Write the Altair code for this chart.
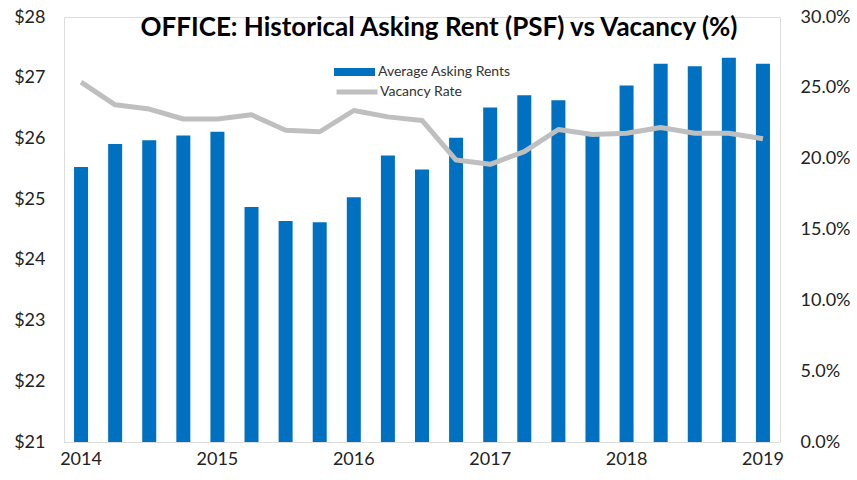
import altair as alt
import pandas as pd

quarters = ["2014 Q1", "2014 Q2", "2014 Q3", "2014 Q4",
            "2015 Q1", "2015 Q2", "2015 Q3", "2015 Q4",
            "2016 Q1", "2016 Q2", "2016 Q3", "2016 Q4",
            "2017 Q1", "2017 Q2", "2017 Q3", "2017 Q4",
            "2018 Q1", "2018 Q2", "2018 Q3", "2018 Q4",
            "2019 Q1"]
rents = [25.53, 25.91, 25.97, 26.05, 26.11, 24.87, 24.64, 24.62, 25.03, 25.72, 25.49,
         26.01, 26.51, 26.71, 26.63, 26.06, 26.87, 27.23, 27.19, 27.33, 27.23]
vacancy = [25.4, 23.8, 23.5, 22.8, 22.8, 23.1, 22.0, 21.9, 23.4, 22.95, 22.7,
           19.9, 19.6, 20.5, 22.06, 21.7, 21.8, 22.2, 21.8, 21.8, 21.4]

df = pd.DataFrame({"quarter": quarters, "rent": rents,
                   "vacancy": [v / 100 for v in vacancy]})

FONT = "Lato"
BLUE = "#0070C0"
GRAY = "#BFBFBF"

x_enc = alt.X("quarter:N", sort=quarters,
              scale=alt.Scale(type="band", paddingInner=0, paddingOuter=0),
              axis=alt.Axis(title=None, ticks=False, domain=False, labelAngle=0,
                            labelExpr="indexof(datum.value, 'Q1') >= 0 ? slice(datum.value, 0, 4) : ''",
                            labelFont=FONT, labelFontSize=18, labelColor="#222222",
                            labelPadding=8))

bars = alt.Chart(df).mark_bar(size=14).encode(
    x=x_enc,
    y=alt.Y("rent:Q", scale=alt.Scale(domain=[21, 28], zero=False, nice=False),
            axis=alt.Axis(title=None, orient="left", values=[21, 22, 23, 24, 25, 26, 27, 28],
                          format="$.0f", ticks=False, domain=False, grid=False,
                          labelFont=FONT, labelFontSize=18, labelColor="#222222",
                          labelPadding=19)),
    y2=alt.datum(21),
    fill=alt.Fill("s:N", scale=alt.Scale(domain=["Average Asking Rents"], range=[BLUE]),
                  legend=alt.Legend(title=None, orient="none", legendX=270, legendY=34.5,
                                    symbolType="M-1,-0.2H1V0.2H-1Z", symbolSize=1681,
                                    symbolStrokeWidth=0, labelFont=FONT, labelFontSize=14,
                                    labelColor="#333333", labelOffset=3)),
).transform_calculate(s="'Average Asking Rents'")

line = alt.Chart(df).mark_line(strokeWidth=5, strokeJoin="round").encode(
    x=x_enc,
    y=alt.Y("vacancy:Q", scale=alt.Scale(domain=[0, 0.30], nice=False),
            axis=alt.Axis(title=None, orient="right", values=[0, 0.05, 0.10, 0.15, 0.20, 0.25, 0.30],
                          format=".1%", ticks=False, domain=False, grid=False,
                          labelFont=FONT, labelFontSize=18, labelColor="#222222",
                          labelPadding=20)),
    stroke=alt.Stroke("s:N", scale=alt.Scale(domain=["Vacancy Rate"], range=[GRAY]),
                      legend=alt.Legend(title=None, orient="none", legendX=270, legendY=52,
                                        symbolType="stroke", symbolSize=1681,
                                        symbolStrokeWidth=5, labelFont=FONT, labelFontSize=14,
                                        labelColor="#333333", labelOffset=0)),
).transform_calculate(s="'Vacancy Rate'")

chart = alt.layer(bars, line).resolve_scale(y="independent").properties(
    width=716, height=425,
    autosize=alt.AutoSizeParams(type="none"),
    padding={"left": 64, "top": 17, "right": 77, "bottom": 38},
    title=alt.TitleParams("OFFICE: Historical Asking Rent (PSF) vs Vacancy (%)",
                          font=FONT, fontSize=26, fontWeight="bold", color="#000000",
                          anchor="middle", dx=17, dy=37),
).configure_view(stroke=None).configure(background="white")

chart.save("out.html", embed_options={"renderer": "svg", "actions": False})
